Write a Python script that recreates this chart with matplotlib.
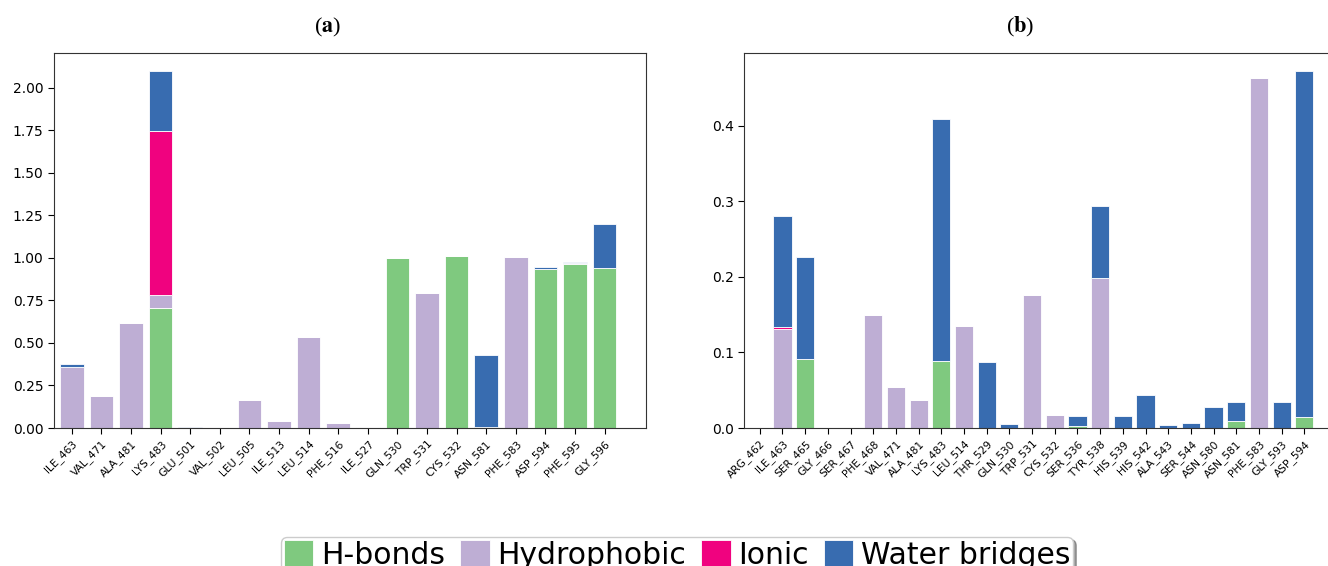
import matplotlib
matplotlib.use("Agg")
from matplotlib import pyplot as plt
import numpy as np

# interaction fractions per residue, panel (a)
residues_a = ["ILE_463", "VAL_471", "ALA_481", "LYS_483", "GLU_501", "VAL_502", "LEU_505",
              "ILE_513", "LEU_514", "PHE_516", "ILE_527", "GLN_530", "TRP_531", "CYS_532",
              "ASN_581", "PHE_583", "ASP_594", "PHE_595", "GLY_596"]
hbond_a = [0, 0, 0, 0.706, 0, 0, 0, 0, 0, 0, 0, 1.0, 0, 1.01, 0.004, 0, 0.935, 0.962, 0.943]
hydro_a = [0.36, 0.19, 0.615, 0.076, 0, 0, 0.162, 0.039, 0.537, 0.03, 0.005, 0, 0.794, 0,
           0, 1.004, 0, 0.006, 0]
ionic_a = [0, 0, 0, 0.963, 0, 0, 0, 0, 0, 0, 0, 0, 0, 0, 0, 0, 0, 0, 0]
water_a = [0.018, 0, 0, 0.353, 0.008, 0, 0, 0, 0, 0, 0, 0, 0, 0, 0.427, 0, 0.014, 0.007, 0.257]

# panel (b)
residues_b = ["ARG_462", "ILE_463", "SER_465", "GLY_466", "SER_467", "PHE_468", "VAL_471",
              "ALA_481", "LYS_483", "LEU_514", "THR_529", "GLN_530", "TRP_531", "CYS_532",
              "SER_536", "TYR_538", "HIS_539", "HIS_542", "ALA_543", "SER_544", "ASN_580",
              "ASN_581", "PHE_583", "GLY_593", "ASP_594"]
hbond_b = [0, 0, 0.091, 0, 0, 0, 0, 0, 0.088, 0, 0, 0, 0, 0, 0.003, 0, 0, 0, 0, 0, 0,
           0.009, 0, 0, 0.014]
hydro_b = [0, 0.131, 0, 0, 0, 0.150, 0.054, 0.037, 0, 0.135, 0, 0, 0.176, 0.017, 0, 0.198,
           0, 0, 0, 0, 0, 0, 0.463, 0, 0]
ionic_b = [0, 0.002, 0, 0, 0, 0, 0, 0, 0, 0, 0, 0, 0, 0, 0, 0, 0, 0, 0, 0, 0, 0, 0, 0, 0]
water_b = [0, 0.148, 0.135, 0, 0, 0, 0, 0, 0.321, 0, 0.087, 0.005, 0, 0, 0.013, 0.095,
           0.016, 0.043, 0.004, 0.006, 0.028, 0.025, 0, 0.034, 0.458]

labels = ["H-bonds", "Hydrophobic", "Ionic", "Water bridges"]
colors = ["#7fc97f", "#beaed4", "#f0027f", "#386cb0"]

plt.rcParams["mathtext.fontset"] = "stix"

fig = plt.figure(figsize=(13.28, 5.66), dpi=100)
ax1 = fig.add_axes([0.0407, 0.2438, 0.4458, 0.662])
ax2 = fig.add_axes([0.5605, 0.2438, 0.4456, 0.662])


def stacked(ax, names, series):
    x = np.arange(len(names))
    bottom = np.zeros(len(names))
    for vals, lab, col in zip(series, labels, colors):
        vals = np.array(vals)
        ax.bar(x, vals, 0.8, bottom=bottom, color=col, label=lab,
               edgecolor="white", linewidth=0.6)
        bottom += vals
    ax.set_xticks(x)
    ax.set_xticklabels(names, rotation=45, ha="right", rotation_mode="anchor", fontsize=7.7)
    ax.tick_params(axis="y", labelsize=10)
    ax.tick_params(length=4)
    ax.set_ylim(0, bottom.max() * 1.05)
    for s in ax.spines.values():
        s.set_color("#333333")


stacked(ax1, residues_a, [hbond_a, hydro_a, ionic_a, water_a])
ax1.set_xlim(-0.6, 19.4)
ax1.set_yticks(np.arange(0, 2.01, 0.25))
ax1.yaxis.set_major_formatter(matplotlib.ticker.FormatStrFormatter("%.2f"))

stacked(ax2, residues_b, [hbond_b, hydro_b, ionic_b, water_b])
ax2.set_xlim(-0.68, 25.4)
ax2.set_yticks([0, 0.1, 0.2, 0.3, 0.4])

# panel captions
fig.text(328 / 1328, 1 - 27 / 566, r"($\mathbf{a}$)", ha="center", va="center", fontsize=16,
         family="Liberation Serif")
fig.text(1020 / 1328, 1 - 27 / 566, r"($\mathbf{b}$)", ha="center", va="center", fontsize=16,
         family="Liberation Serif")

handles, labs = ax1.get_legend_handles_labels()
fig.legend(handles, labs, loc="upper center", bbox_to_anchor=(677 / 1328, 1 - 537 / 566),
           ncol=4, fontsize=21.5, handlelength=1.0, handleheight=1.0, handletextpad=0.25,
           columnspacing=0.5, borderpad=0.1, borderaxespad=0, shadow=True, framealpha=1,
           fancybox=True)

fig.savefig("out.png", dpi=100)
